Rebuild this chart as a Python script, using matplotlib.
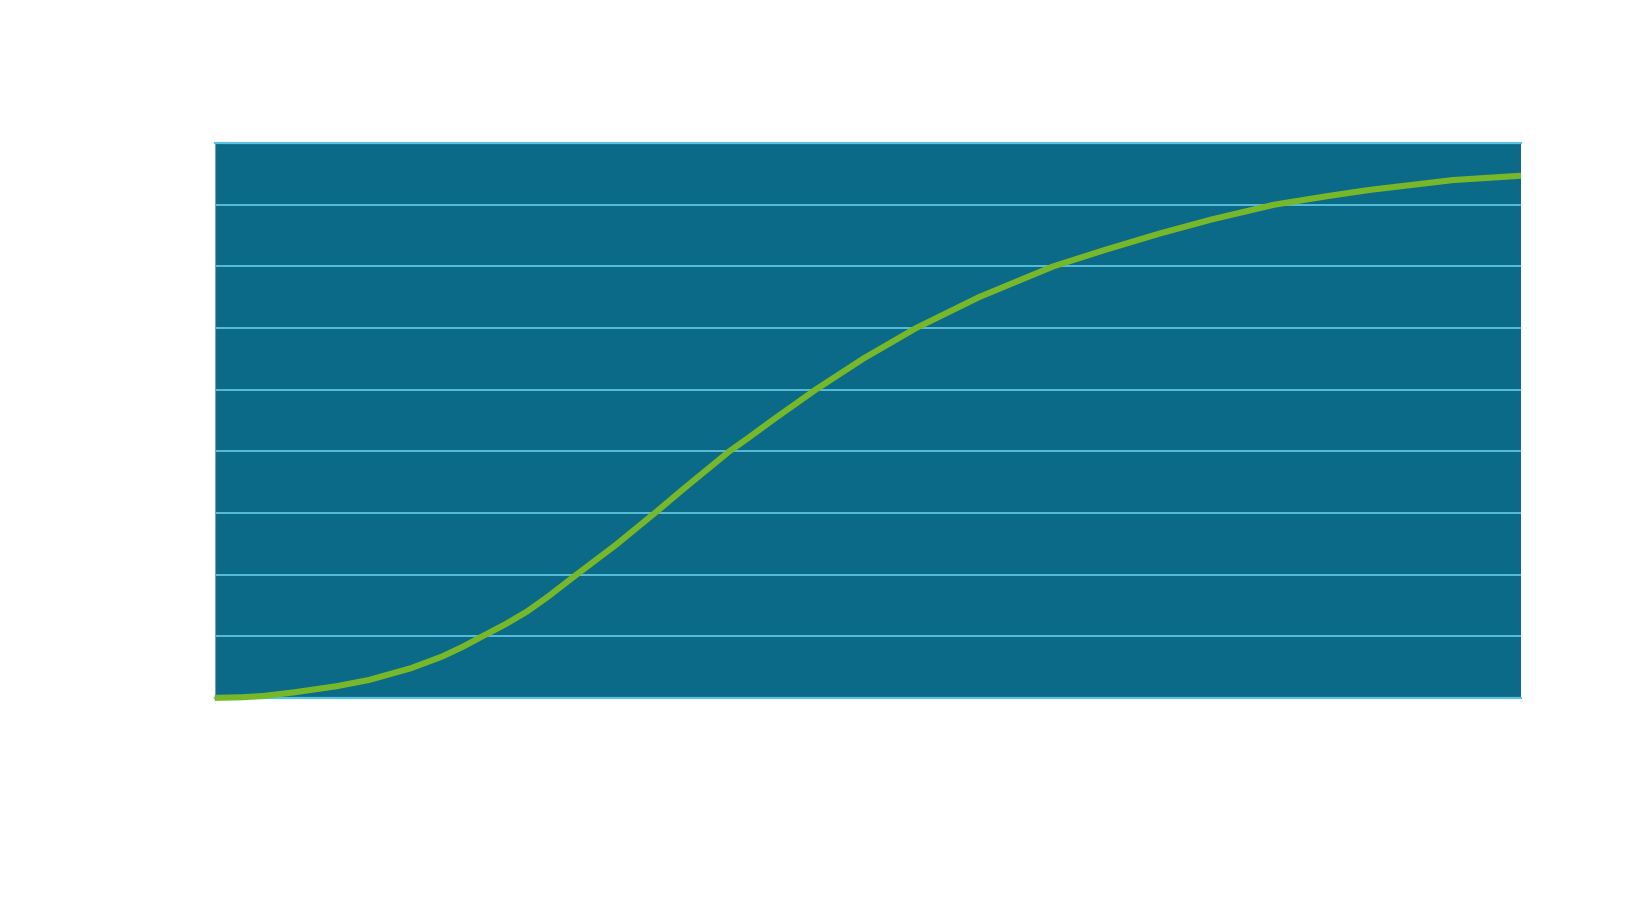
import numpy as np
import matplotlib
matplotlib.use("Agg")
import matplotlib.pyplot as plt

# values (x in % of width, y in grid units)
x_vals = [0, 2.1, 3.7, 6.1, 9.35, 11.8, 15.0, 17.4, 19.0, 20.5, 22.3, 23.9,
          25.5, 27.7, 30.7, 33.7, 36.0, 39.4, 40.8, 42.8, 46.0, 49.7, 53.7,
          56.1, 58.5, 61.0, 64.2, 68.2, 72.3, 76.3, 81.1, 85.2, 88.4, 94.8, 100]
y_vals = [0, 0.01, 0.03, 0.09, 0.19, 0.29, 0.48, 0.67, 0.83, 1.0, 1.2, 1.40,
          1.64, 2.0, 2.48, 3.0, 3.41, 4.0, 4.21, 4.52, 5.0, 5.51, 6.0,
          6.25, 6.50, 6.72, 7.0, 7.27, 7.53, 7.76, 8.0, 8.14, 8.24, 8.40, 8.47]
y_ticks = list(range(0, 10))

bg = "#0a6a88"
grid_col = "#5cc3df"
line_col = "#76b82a"

fig = plt.figure(figsize=(16.52, 8.97), dpi=100)
ax = fig.add_axes([0.130, 0.222, 0.7907, 0.6185])
ax.set_facecolor(bg)

ax.plot(x_vals, y_vals, color=line_col, linewidth=4.4, solid_capstyle="butt",
        solid_joinstyle="round", zorder=3, clip_on=False)

ax.set_xlim(0, 100)
ax.set_ylim(0, 9)
ax.set_yticks(y_ticks)
ax.yaxis.grid(True, color=grid_col, linewidth=1.3)
ax.set_axisbelow(True)
ax.tick_params(left=False, bottom=False, labelleft=False, labelbottom=False)

for s in ["top", "bottom"]:
    ax.spines[s].set_color(grid_col)
    ax.spines[s].set_linewidth(1.6)
ax.spines["left"].set_color("#7a9ea8")
ax.spines["left"].set_linewidth(0.8)
ax.spines["right"].set_visible(False)

fig.savefig("out.png", dpi=100)
